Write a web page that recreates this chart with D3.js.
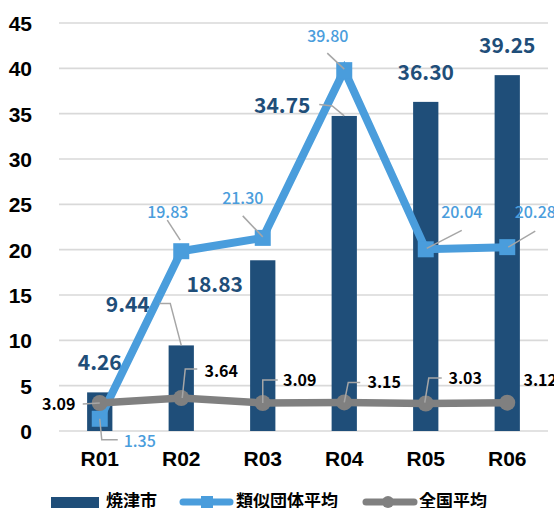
<!DOCTYPE html>
<html><head><meta charset="utf-8">
<script src="https://cdn.jsdelivr.net/npm/d3@7"></script>
<style>
html,body{margin:0;padding:0;background:#fff;}
svg{display:block;font-family:"Noto Sans CJK JP","Liberation Sans",sans-serif;}
</style></head>
<body><svg id="c" width="554" height="508"></svg>
<script>
// ---- data ----
const categories = ["R01","R02","R03","R04","R05","R06"];
const yaizu = [4.26, 9.44, 18.83, 34.75, 36.30, 39.25];
const ruiji = [1.35, 19.83, 21.30, 39.80, 20.04, 20.28];
const zenkoku = [3.09, 3.64, 3.09, 3.15, 3.03, 3.12];
const yTicks = [0,5,10,15,20,25,30,35,40,45];
const seriesNames = ["焼津市","類似団体平均","全国平均"];

// ---- label layout (offsets from each data point) ----
const barLabelOff = [[0,-22],[-53.5,-33],[-48,32],[-62,-3],[0,-22],[0,-22]];
const barLeaders = [null, [[-22,-42],[-11,-42],[0,0]], null, [[-25,-11.5],[-12,-10],[0,0]], null, null];
const blueLabelOff = [[40,28],[-13.5,-33],[-20,-34],[-16.5,-28],[36,-31],[28,-29]];
const blueLeaders = [[[0,0],[2,21],[18,21]], [[-14,-31],[-1,-11]], [[-20,-22],[0,-1]], [[-17,-17],[0,-1]], [[36,-19],[1,-1]], [[28,-16],[1,0]]];
const grayLabelOff = [[-41,7],[40,-21],[37,-17],[40,-14],[39.5,-19.5],[33,-17]];
const grayLeaders = [[[-17,1],[0,0]], [[16,-29],[4,-29],[1,0]], [[15,-23],[0,-23],[0,0]], [[16,-20],[4,-20],[0,0]], [[16,-25.5],[3,-25.5],[-1,-1]], null];

const cBar = "#1F4E79", cBlue = "#4A9DDC", cGray = "#808080", cLead = "#A6A6A6", cGrid = "#D9D9D9";

const svg = d3.select("#c");
const x = d3.scaleBand().domain(categories).range([59, 548]).paddingInner(0.69).paddingOuter(0.345);
const y = d3.scaleLinear().domain([0, 45]).range([431, 23]);
const cx = c => x(c) + x.bandwidth()/2;

// grid
svg.append("g").selectAll("line").data(yTicks).join("line")
  .attr("x1", 59).attr("x2", 548).attr("y1", d=>y(d)).attr("y2", d=>y(d))
  .attr("stroke", cGrid).attr("stroke-width", 1.6);

// y axis labels
const yAxis = d3.axisLeft(y).tickValues(yTicks).tickSize(0).tickPadding(0).tickFormat(d3.format("d"));
const ya = svg.append("g").attr("transform","translate(32,0)").call(yAxis);
ya.select(".domain").remove();
ya.selectAll("text").attr("font-size", 21).attr("font-weight", "bold").attr("fill", "#000")
  .attr("font-family", "inherit").attr("dy", "0.36em");

// x axis labels
const xAxis = d3.axisBottom(x).tickSize(0).tickPadding(0);
const xa = svg.append("g").attr("transform","translate(0,458)").call(xAxis);
xa.select(".domain").remove();
xa.selectAll("text").attr("font-size", 21).attr("font-weight", "bold").attr("fill", "#000")
  .attr("font-family", "inherit").attr("dy", "0.36em").attr("y", 0);

// bars
svg.append("g").selectAll("rect").data(yaizu).join("rect")
  .attr("x", (d,i)=>x(categories[i])).attr("width", x.bandwidth())
  .attr("y", d=>y(d)).attr("height", d=>y(0)-y(d)).attr("fill", cBar);

// blue line
const line = d3.line().x((d,i)=>cx(categories[i])).y(d=>y(d));
svg.append("path").datum(ruiji).attr("d", line).attr("fill","none")
  .attr("stroke", cBlue).attr("stroke-width", 8).attr("stroke-linejoin","miter");
svg.append("g").selectAll("rect").data(ruiji).join("rect")
  .attr("x", (d,i)=>cx(categories[i])-8).attr("y", d=>y(d)-8)
  .attr("width", 16).attr("height", 16).attr("fill", cBlue);

// gray line
svg.append("path").datum(zenkoku).attr("d", line).attr("fill","none")
  .attr("stroke", cGray).attr("stroke-width", 7.5);
svg.append("g").selectAll("circle").data(zenkoku).join("circle")
  .attr("cx", (d,i)=>cx(categories[i])).attr("cy", d=>y(d)).attr("r", 8).attr("fill", cGray);

// leaders
function leaders(vals, defs){
  const g = svg.append("g");
  vals.forEach((v,i)=>{
    const L = defs[i]; if(!L) return;
    const px = cx(categories[i]), py = y(v);
    g.append("polyline").attr("points", L.map(p=>[px+p[0], py+p[1]].join(",")).join(" "))
      .attr("fill","none").attr("stroke", cLead).attr("stroke-width", 1.5);
  });
}
leaders(yaizu, barLeaders);
leaders(ruiji, blueLeaders);
leaders(zenkoku, grayLeaders);

// labels
function labels(vals, offs, color, size, weight){
  svg.append("g").selectAll("text").data(vals).join("text")
    .attr("x", (d,i)=>cx(categories[i]) + offs[i][0])
    .attr("y", (d,i)=>y(d) + offs[i][1])
    .attr("text-anchor","middle").attr("fill", color)
    .attr("font-size", size).attr("font-weight", weight)
    .text(d=>d3.format(".2f")(d));
}
labels(yaizu, barLabelOff, cBar, 21, "bold");
labels(ruiji, blueLabelOff, cBlue, 16, 500);
labels(zenkoku, grayLabelOff, "#000", 16, "bold");

// legend
const lg = svg.append("g");
lg.append("rect").attr("x", 51).attr("y", 497).attr("width", 48).attr("height", 11).attr("fill", cBar);
lg.append("text").attr("x", 106).attr("y", 501).attr("dy","0.36em").attr("font-size",17).attr("font-weight","bold").text(seriesNames[0]);
lg.append("line").attr("x1", 183).attr("x2", 230).attr("y1", 502).attr("y2", 502)
  .attr("stroke", cBlue).attr("stroke-width", 7).attr("stroke-linecap","round");
lg.append("rect").attr("x", 201).attr("y", 496).attr("width", 12).attr("height", 12).attr("fill", cBlue);
lg.append("text").attr("x", 236).attr("y", 501).attr("dy","0.36em").attr("font-size",17).attr("font-weight","bold").text(seriesNames[1]);
lg.append("line").attr("x1", 366).attr("x2", 414).attr("y1", 502).attr("y2", 502)
  .attr("stroke", cGray).attr("stroke-width", 7).attr("stroke-linecap","round");
lg.append("circle").attr("cx", 388).attr("cy", 502).attr("r", 6).attr("fill", cGray);
lg.append("text").attr("x", 419).attr("y", 501).attr("dy","0.36em").attr("font-size",17).attr("font-weight","bold").text(seriesNames[2]);
</script></body></html>
